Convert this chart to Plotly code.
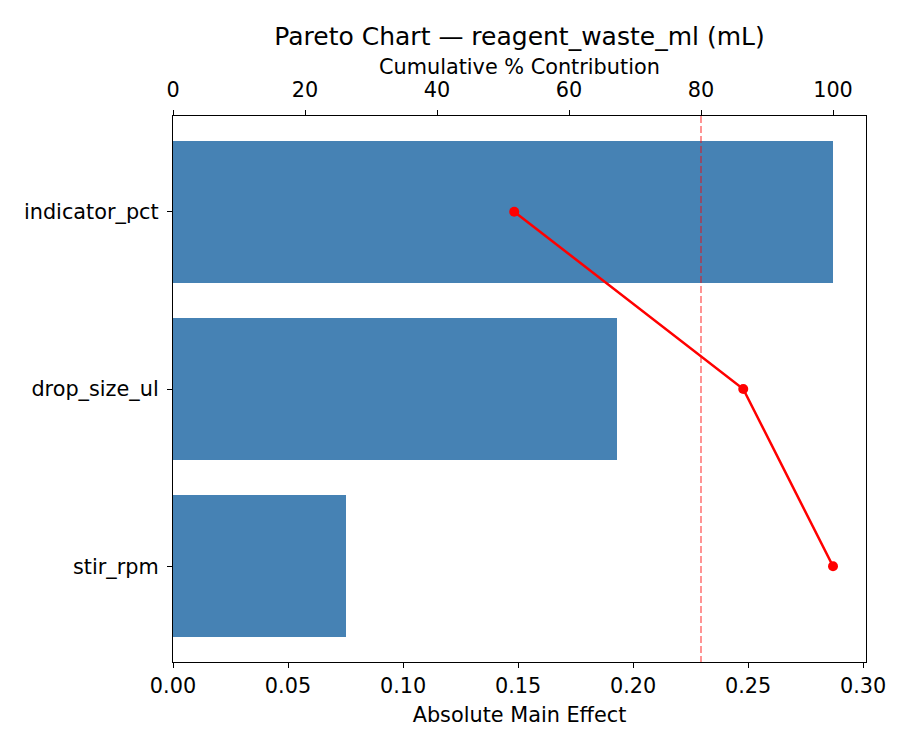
import plotly.graph_objects as go

# factors ordered by effect size (largest first)
factors = ["indicator_pct", "drop_size_ul", "stir_rpm"]
abs_effect = [0.2869, 0.1929, 0.0753]
cum_pct = [51.7, 86.4, 100.0]

effect_ticks = [0.00, 0.05, 0.10, 0.15, 0.20, 0.25, 0.30]
pct_ticks = [0, 20, 40, 60, 80, 100]
threshold = 80

FONT = "DejaVu Sans"
# page body adds an 8px offset, so the margins are shifted back by that much
L, R, T, B = 165, 42, 108, 96
plot_h = 750 - T - B

fig = go.Figure()

fig.add_trace(go.Bar(
    x=abs_effect,
    y=factors,
    orientation="h",
    width=0.8,
    marker=dict(color="#4682B4", line=dict(width=0)),
    xaxis="x",
    yaxis="y",
    showlegend=False,
))

fig.add_trace(go.Scatter(
    x=[threshold, threshold],
    y=[-0.54, 2.54],
    mode="lines",
    line=dict(color="rgba(255,0,0,0.6)", width=1.4, dash="7px,3px"),
    xaxis="x2",
    yaxis="y2",
    showlegend=False,
))

fig.add_trace(go.Scatter(
    x=cum_pct,
    y=[0, 1, 2],
    mode="lines+markers",
    line=dict(color="red", width=2.5),
    marker=dict(color="red", size=10),
    xaxis="x2",
    yaxis="y2",
    showlegend=False,
))

tick_style = dict(
    ticks="outside",
    ticklen=5,
    tickwidth=1.2,
    tickcolor="black",
    showline=True,
    linecolor="black",
    linewidth=1.3,
    showgrid=False,
    zeroline=False,
)

fig.update_layout(
    width=900,
    height=750,
    margin=dict(l=L, r=R, t=T, b=B),
    plot_bgcolor="white",
    paper_bgcolor="white",
    font=dict(family=FONT, size=20.8, color="black"),
    title=dict(
        text="Pareto Chart — reagent_waste_ml (mL)",
        x=(L + 900 - R) / 2 / 900,
        xanchor="center",
        y=1 - 28 / 750,
        yanchor="middle",
        font=dict(size=25),
    ),
    bargap=0,
    xaxis=dict(
        range=[0, 0.2869 * 1.05],
        tickvals=effect_ticks,
        tickformat=".2f",
        title=dict(text="Absolute Main Effect", font=dict(size=20.8), standoff=10),
        **tick_style,
    ),
    xaxis2=dict(
        overlaying="x",
        side="top",
        range=[0, 105],
        tickvals=pct_ticks,
        ticklabelstandoff=5,
        **tick_style,
    ),
    yaxis=dict(
        range=[2.54, -0.54],
        categoryorder="array",
        categoryarray=factors,
        mirror=True,
        ticklabelstandoff=4,
        **tick_style,
    ),
    yaxis2=dict(
        overlaying="y",
        range=[2.54, -0.54],
        visible=False,
    ),
    annotations=[dict(
        text="Cumulative % Contribution",
        xref="paper",
        yref="paper",
        x=0.5,
        y=1 + 49 / plot_h,
        xanchor="center",
        yanchor="middle",
        showarrow=False,
        font=dict(size=20.8),
    )],
)

fig.write_html("out.html")
